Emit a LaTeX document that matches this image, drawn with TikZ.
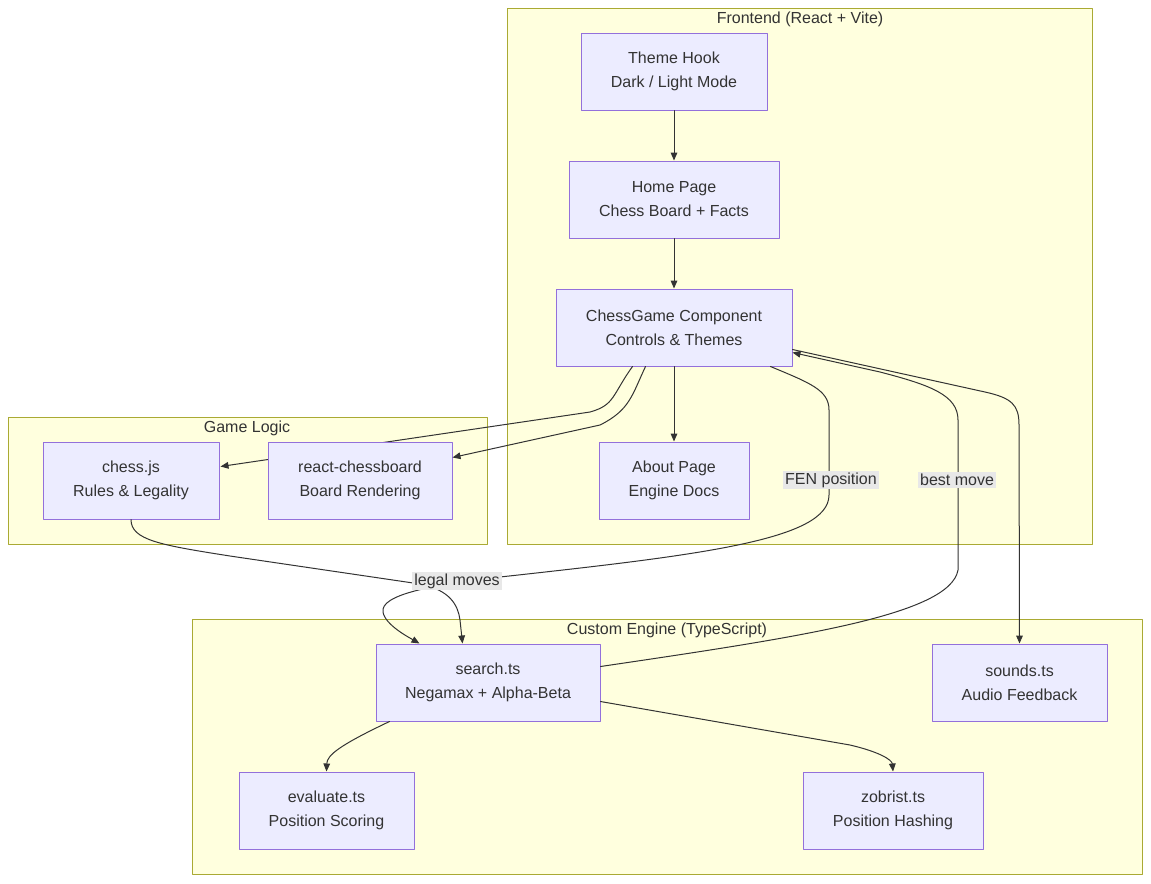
\documentclass[tikz,border=0pt]{standalone}
\usepackage{fontspec}
\setmainfont{Liberation Sans}
\usetikzlibrary{calc, positioning}
\usetikzlibrary{arrows.meta}

\definecolor{nodefill}{HTML}{ECECFF}
\definecolor{nodeline}{HTML}{9370DB}
\definecolor{clusterfill}{HTML}{FFFFDE}
\definecolor{clusterline}{HTML}{AAAA33}
\definecolor{inktext}{HTML}{333333}
\definecolor{labelgrey}{HTML}{E8E8E8}

\begin{document}
\begin{tikzpicture}[x=0.75pt, y=-0.75pt, line join=round, line cap=round,
  box/.style={draw=nodeline, fill=nodefill, line width=0.75pt, text=inktext,
    align=center, minimum height=57.75pt, minimum width=#1*0.75pt,
    font=\fontsize{12}{18}\selectfont},
  cluster/.style={draw=clusterline, fill=clusterfill, line width=0.75pt},
  clustertitle/.style={text=inktext, font=\fontsize{12}{14}\selectfont, inner sep=0pt},
  edgelabel/.style={fill=labelgrey, text=inktext, inner sep=1.5pt,
    font=\fontsize{12}{14}\selectfont},
  flow/.style={draw=inktext, line width=0.75pt, -{Triangle[length=6pt, width=5pt]}}]
\useasboundingbox (0,0) rectangle (1151,883);

% Subgraph frames
\draw[cluster] (507,8) rectangle (1092,544);
\draw[cluster] (8,417) rectangle (487,544);
\draw[cluster] (192,619) rectangle (1142,874);
\node[clustertitle] (frontendtitle) at (800,19) {Frontend (React + Vite)};
\node[clustertitle] (logictitle) at (247,428) {Game Logic};
\node[clustertitle] (enginetitle) at (667,630) {Custom Engine (TypeScript)};

% Component boxes
\node[box=186] (theme) at (674,71.5) {Theme Hook\\Dark / Light Mode};
\node[box=210] (home) at (674,199.5) {Home Page\\Chess Board + Facts};
\node[box=236] (game) at (674,327.5) {ChessGame Component\\Controls \& Themes};
\node[box=150] (about) at (674,480.5) {About Page\\Engine Docs};
\node[box=176] (rules) at (131,480.5) {chess.js\\Rules \& Legality};
\node[box=175] (sounds) at (1019.5,682.5) {sounds.ts\\Audio Feedback};
\node[box=224] (search) at (488,682.5) {search.ts\\Negamax + Alpha-Beta};
\node[box=175] (evaluate) at (326.5,810.5) {evaluate.ts\\Position Scoring};
\node[box=180] (zobrist) at (893,810.5) {zobrist.ts\\Position Hashing};
\coordinate (board) at (360,480.5);

% Frontend chain
\path[flow] (theme) -- (home);
\path[flow] (home) -- (game);
\path[flow] (game) -- (about);

% ChessGame to the game logic (the first one runs behind react-chessboard)
\path[flow] ($(game.south west)+(77,0)$) .. controls (612,395) and (615,405) .. (590,412)
  -- ($(rules.north east)+(1,25)$);
\node[box=184] (board) at (board) {react-chessboard\\Board Rendering};
\path[flow] ($(game.south west)+(90,0)$) .. controls (632,395) and (630,410) .. (600,425)
  -- ($(board.north east)+(0,16)$);

% legal moves and FEN position into search.ts
\path[flow] (rules.south) .. controls (131,540) and (160,545) .. (230,556)
  -- (420,584) .. controls (450,590) and (458,605) .. (460,620) -- ($(search.north west)+(87,0)$);
\path[flow] ($(game.south east)+(-22,0)$) .. controls (810,383) and (829,390) .. (829,410)
  -- (829,495) .. controls (829,540) and (700,555) .. (500,577)
  .. controls (430,585) and (380,595) .. (383,612)
  .. controls (385,625) and (410,638) .. ($(search.north west)+(44,0)$);

% best move back, and sounds
\path[flow] ($(search.north east)+(0,23)$) .. controls (800,637) and (950,615) .. (958,570)
  -- (958,420) .. controls (958,395) and (930,385) .. (880,372) -- ($(game.south east)+(0,-14)$);
\path[flow] ($(game.south east)+(0,-17)$) -- (985,392) .. controls (1012,398) and (1019,405) .. (1019,425)
  -- (sounds.north);

% Inside the engine
\path[flow] ($(search.south west)+(14,0)$) .. controls (340,745) and (327,755) .. (evaluate.north);
\path[flow] ($(search.south east)+(0,-20)$) -- (850,745) .. controls (880,752) and (892,760) .. (zobrist.north);

% Edge labels
\node[edgelabel] (fenlabel) at (831,480) {FEN position};
\node[edgelabel] (bestlabel) at (957,480) {best move};
\node[edgelabel] (legallabel) at (457,581) {legal moves};
\end{tikzpicture}
\end{document}
